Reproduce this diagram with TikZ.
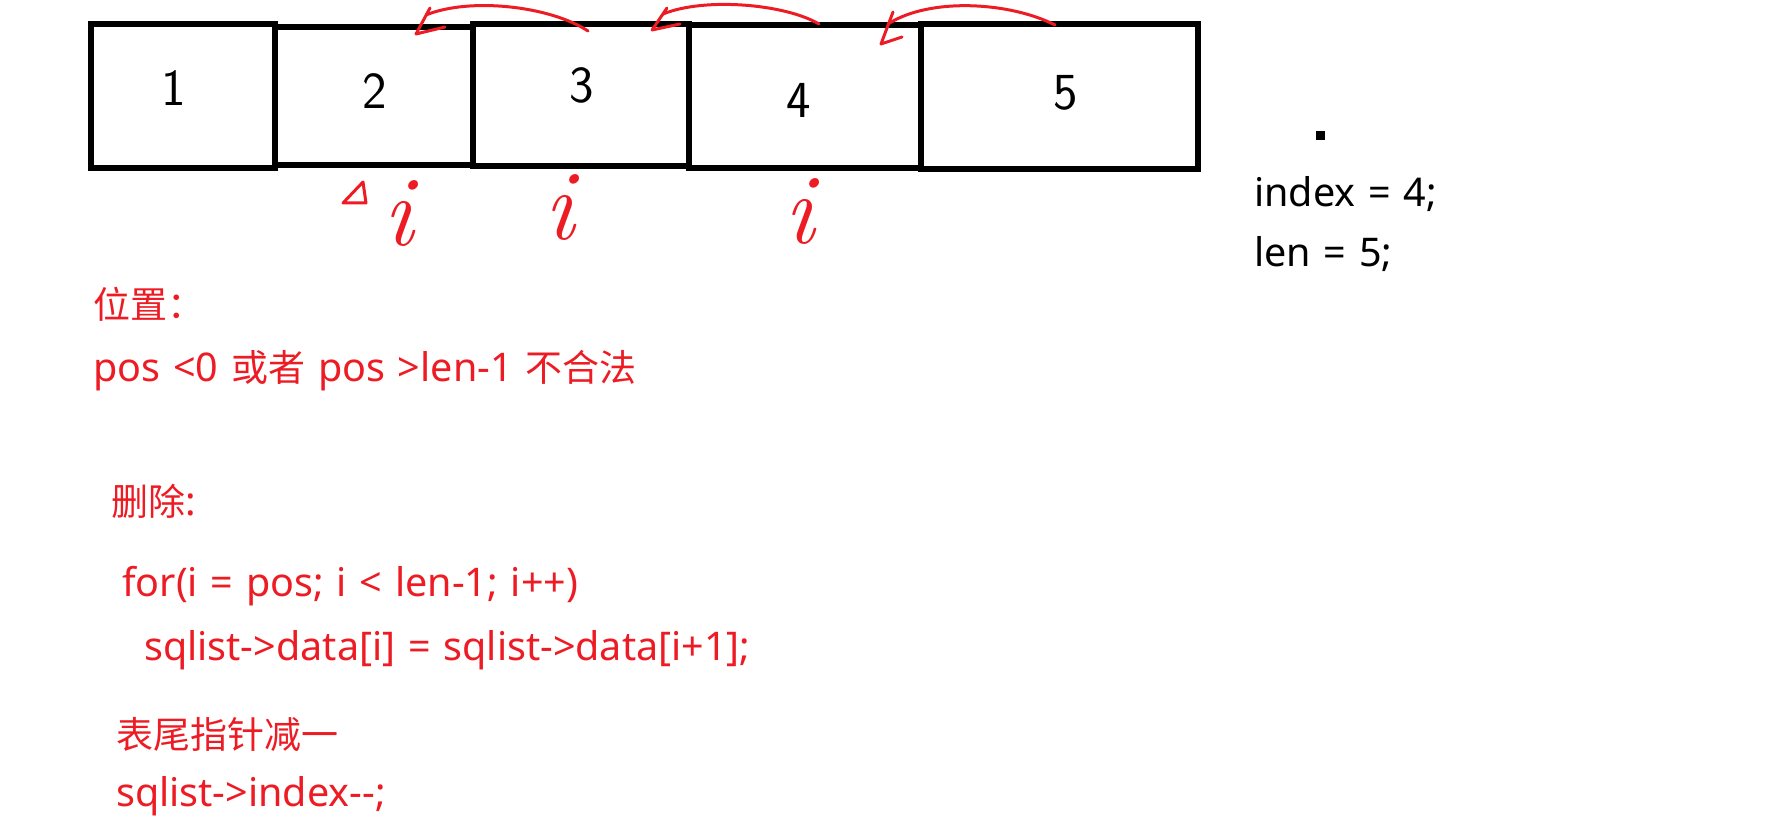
\documentclass[tikz,border=0pt]{standalone}
\usepackage{fontspec}
\newfontfamily\lat[WordSpace=1.25]{Noto Sans}
\newfontfamily\cjk{Noto Sans CJK SC}
\newcommand\cjtext[1]{{\fontsize{37}{44}\cjk #1}}
\definecolor{pen}{RGB}{237,28,36}
\tikzset{
  cell/.style={draw=black, line width=5.5pt, inner sep=0pt, outer sep=0pt, anchor=north west},
  digit/.style={font=\fontsize{52}{52}\sffamily, inner sep=0pt},
  idx/.style={text=pen, font=\fontsize{100}{100}\selectfont\itshape, inner sep=0pt},
  redtxt/.style={text=pen, anchor=base west, inner sep=0pt, font=\fontsize{39.5}{44}\lat},
  blktxt/.style={text=black, anchor=base west, inner sep=0pt, font=\fontsize{39.5}{44}\lat},
  stroke/.style={draw=pen, line width=3pt, line cap=round, line join=round}
}
\begin{document}
\begin{tikzpicture}[x=1pt,y=-1pt]
\useasboundingbox (0,0) rectangle (1782,837);
\clip (0,0) rectangle (1782,837);
% boxes
\node[cell, minimum width=184pt, minimum height=144pt] (b1) at (91,24) {};
\node[cell, minimum width=198pt, minimum height=138pt] (b2) at (275,27) {};
\node[cell, minimum width=216pt, minimum height=142pt] (b3) at (473,24) {};
\node[cell, minimum width=232pt, minimum height=143pt] (b4) at (689,25) {};
\node[cell, minimum width=277pt, minimum height=145pt] (b5) at (921,24) {};
% digits
\node[digit] (d1) at (174,88) {1};
\node[digit] (d2) at (375,91) {2};
\node[digit] (d3) at (582,85) {3};
\node[digit] (d4) at (799,100) {4};
\node[digit] (d5) at (1066,93) {5};
% red arrows
\coordinate (a1s) at (588,31); \coordinate (a1c) at (426,15); \coordinate (a1u) at (430,8);
\coordinate (a1t) at (416,34); \coordinate (a1b) at (445,27);
\coordinate (a2s) at (819,24); \coordinate (a2c) at (663,14); \coordinate (a2u) at (667,8);
\coordinate (a2t) at (652,30); \coordinate (a2b) at (680,24);
\coordinate (a3s) at (1055,25); \coordinate (a3c) at (888,24); \coordinate (a3u) at (893,12);
\coordinate (a3t) at (881,44); \coordinate (a3b) at (902,37);
\draw[stroke] (a1s) .. controls (550,6) and (470,-3) .. (a1c);
\draw[stroke] (a1u) -- (a1t) -- (a1b);
\draw[stroke] (a2s) .. controls (785,4) and (705,-3) .. (a2c);
\draw[stroke] (a2u) -- (a2t) -- (a2b);
\draw[stroke] (a3s) .. controls (1010,2) and (930,-3) .. (a3c);
\draw[stroke] (a3u) -- (a3t) -- (a3b);
% i marks
\draw[stroke] (343,203) -- (363,182) -- (366,203) -- cycle;
\node[idx] (i1) at (398,213) {i};
\node[idx] (i2) at (559,208) {i};
\node[idx] (i3) at (799,211) {i};
% right notes
\fill (1315.5,131.5) rectangle ++(9,9);
\node[blktxt] (t1) at (1254,207) {index = 4;};
\node[blktxt] (t2) at (1254,266) {len = 5;};
% red notes
\node[redtxt] (r1) at (93,318) {\cjtext{位置：}};
\node[redtxt] (r2) at (93,381) {pos <0 \cjtext{或者} pos >len-1 \cjtext{不合法}};
\node[redtxt] (r3) at (111,515) {\cjtext{删除}:};
\node[redtxt] (r4) at (122,596) {for(i = pos; i < len-1; i++)};
\node[redtxt] (r5) at (144,660) {sqlist->data[i] = sqlist->data[i+1];};
\node[redtxt] (r6) at (116,748) {\cjtext{表尾指针减一}};
\node[redtxt] (r7) at (116,806) {sqlist->index--;};
\end{tikzpicture}
\end{document}
